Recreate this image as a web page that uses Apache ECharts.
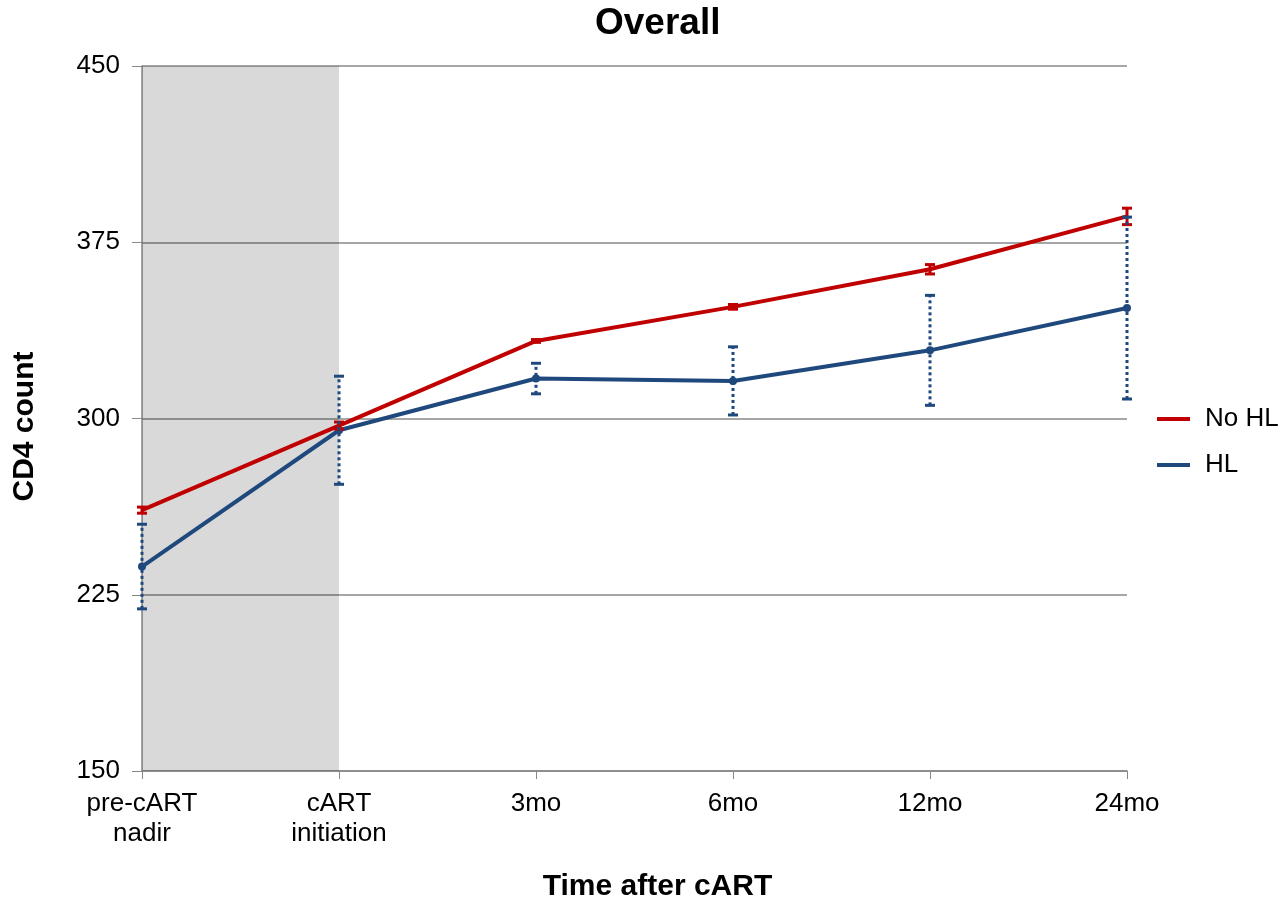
<!DOCTYPE html>
<html>
<head>
<meta charset="utf-8">
<script src="https://cdn.jsdelivr.net/npm/echarts@6/dist/echarts.min.js"></script>
<style>
  html, body { margin: 0; padding: 0; background: #fff; }
  #grafico { width: 1288px; height: 898px; }
</style>
</head>
<body>
<div id="grafico"></div>
<script>
// dados
const categorias = ['pre-cART\nnadir', 'cART\ninitiation', '3mo', '6mo', '12mo', '24mo'];
const semHL = [261, 297, 333, 347.5, 363.5, 386];
const semHLErro = [1.3, 1.5, 0.6, 1, 2, 3.5];
const comHL = [237, 295, 317, 316, 329, 347];
const comHLErro = [18, 23, 6.5, 14.5, 23.4, 38.7];

const corVermelha = '#C00000';
const corAzul = '#1F497D';
const fonte = 'Liberation Sans, Arial, sans-serif';

const grafico = echarts.init(document.getElementById('grafico'));

// barras de erro desenhadas com série custom
function serieErro(nome, valores, erros, cor, pontilhado) {
    return {
        name: nome + ' erro',
        type: 'custom',
        z: 5,
        data: valores.map((v, i) => [i, v - erros[i], v + erros[i]]),
        renderItem: function (params, api) {
            const x = api.value(0);
            const baixo = api.coord([x, api.value(1)]);
            const alto = api.coord([x, api.value(2)]);
            const meia = 5;
            const estiloLinha = { stroke: cor, lineWidth: 3, lineDash: pontilhado ? [3, 3] : null };
            const estiloCap = { stroke: cor, lineWidth: 3 };
            return {
                type: 'group',
                children: [
                    { type: 'line', shape: { x1: baixo[0], y1: baixo[1], x2: alto[0], y2: alto[1] }, style: estiloLinha },
                    { type: 'line', shape: { x1: alto[0] - meia, y1: alto[1], x2: alto[0] + meia, y2: alto[1] }, style: estiloCap },
                    { type: 'line', shape: { x1: baixo[0] - meia, y1: baixo[1], x2: baixo[0] + meia, y2: baixo[1] }, style: estiloCap }
                ]
            };
        }
    };
}

const option = {
    animation: false,
    backgroundColor: '#fff',
    title: {
        text: 'Overall',
        left: 595,
        top: 5,
        padding: 0,
        textStyle: { fontFamily: fonte, fontSize: 37, fontWeight: 'bold', color: '#000' }
    },
    legend: {
        data: ['No HL', 'HL'],
        orient: 'vertical',
        left: 1157,
        top: 406,
        padding: 0,
        itemGap: 20,
        itemWidth: 33,
        itemHeight: 4,
        icon: 'rect',
        textStyle: { fontFamily: fonte, fontSize: 26, color: '#000', padding: [0, 0, 0, 10] }
    },
    grid: { left: 142, right: 161, top: 66, bottom: 127, outerBoundsMode: 'none' },
    xAxis: {
        type: 'category',
        data: categorias,
        boundaryGap: false,
        name: 'Time after cART',
        nameLocation: 'middle',
        nameGap: 101,
        nameTextStyle: { fontFamily: fonte, fontSize: 30, fontWeight: 'bold', color: '#000', padding: [0, 0, 0, 46] },
        axisLine: { lineStyle: { color: '#888', width: 1.5 } },
        axisTick: { show: true, alignWithLabel: true, length: 8, lineStyle: { color: '#888' } },
        axisLabel: { fontFamily: fonte, fontSize: 26, color: '#000', margin: 18, lineHeight: 30 },
        splitLine: { show: false }
    },
    yAxis: {
        type: 'value',
        min: 150,
        max: 450,
        interval: 75,
        name: 'CD4 count',
        nameLocation: 'middle',
        nameGap: 102,
        nameTextStyle: { fontFamily: fonte, fontSize: 30, fontWeight: 'bold', color: '#000', padding: [0, 16, 0, 0] },
        axisLine: { show: true, lineStyle: { color: '#888', width: 1.5 } },
        axisTick: { show: true, length: 10, lineStyle: { color: '#888' } },
        axisLabel: { fontFamily: fonte, fontSize: 26, color: '#000', margin: 22 },
        splitLine: { show: true, lineStyle: { color: '#888', width: 1.5 } }
    },
    series: [
        {
            name: 'No HL',
            type: 'line',
            data: semHL,
            color: corVermelha,
            lineStyle: { width: 4 },
            symbol: 'none',
            z: 4,
            markArea: {
                silent: true,
                itemStyle: {
                    color: 'rgba(0,0,0,0.15)',
                    decal: { symbol: 'rect', symbolSize: 0.5, color: 'rgba(255,255,255,0.3)', dashArrayX: [2, 2], dashArrayY: [2, 2] }
                },
                data: [[{ xAxis: 0 }, { xAxis: 1 }]]
            }
        },
        {
            name: 'HL',
            type: 'line',
            data: comHL,
            color: corAzul,
            lineStyle: { width: 4 },
            symbol: 'circle',
            symbolSize: 8,
            showSymbol: true,
            z: 4
        },
        serieErro('No HL', semHL, semHLErro, corVermelha, false),
        serieErro('HL', comHL, comHLErro, corAzul, true)
    ]
};

grafico.setOption(option);
</script>
</body>
</html>
